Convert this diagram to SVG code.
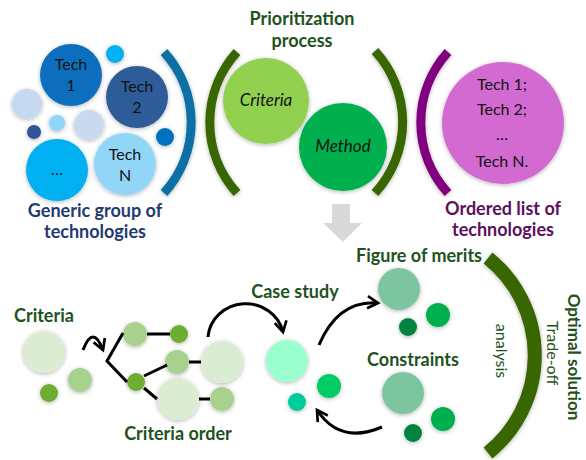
<svg xmlns="http://www.w3.org/2000/svg" width="586" height="460" viewBox="0 0 586 460">
<defs>
<filter id="sh" x="-30%" y="-30%" width="160%" height="160%">
<feDropShadow dx="0" dy="1" stdDeviation="2" flood-color="#000" flood-opacity="0.3"/>
</filter>
<marker id="ah" viewBox="0 0 10 10" refX="8" refY="5" markerWidth="5" markerHeight="5" orient="auto" markerUnits="strokeWidth">
<path d="M1,1 L8,5 L1,9" fill="none" stroke="#000" stroke-width="1.8"/>
</marker>
<style>
text{font-family:Lato,"Liberation Sans",sans-serif;text-anchor:middle}
.h{font-weight:bold;font-size:18px}
.g{fill:#1E5220}
.nv{fill:#1F3B70}
.pu{fill:#5C105E}
.t{font-size:16px;fill:#111}
.it{font-style:italic;font-size:17px;fill:#111}
.rt{font-size:16px}
.arc{fill:none;stroke-width:9;filter:url(#sh)}
.c{filter:url(#sh)}
.ln{stroke:#000;stroke-width:3;fill:none}
.ar{stroke:#000;stroke-width:3;fill:none;marker-end:url(#ah)}
</style>
</defs>
<rect width="586" height="460" fill="#fff"/>

<g id="generic-group">
<circle class="c" cx="115" cy="54" r="9" fill="#00B0F0"/>
<circle class="c" cx="27" cy="104" r="15" fill="#C5D9F1"/>
<circle class="c" cx="57" cy="123" r="8" fill="#8FD6F8"/>
<circle class="c" cx="34" cy="132" r="7" fill="#2F5597"/>
<circle class="c" cx="89" cy="125" r="15" fill="#C9DAF0"/>
<circle class="c" cx="165" cy="137" r="9" fill="#0070C0"/>
<circle class="c" cx="71" cy="75" r="31" fill="#0A6EBD"/>
<text class="t" x="71" y="70">Tech</text>
<text class="t" x="71" y="91">1</text>
<circle class="c" cx="137" cy="97" r="31" fill="#2E5C99"/>
<text class="t" x="137" y="92">Tech</text>
<text class="t" x="137" y="113">2</text>
<circle class="c" cx="57" cy="170" r="31" fill="#00B0F0"/>
<text class="t" x="57" y="175">…</text>
<circle class="c" cx="125" cy="164" r="31" fill="#92D6F7"/>
<text class="t" x="125" y="160">Tech</text>
<text class="t" x="125" y="181">N</text>
<path class="arc" d="M164,52 A105,105 0 0 1 164,193" stroke="#0B6FA4"/>
<text class="h nv" x="95" y="217">Generic group of</text>
<text class="h nv" x="95" y="238">technologies</text>
</g>

<g id="prioritization">
<text class="h g" x="302" y="25">Prioritization</text>
<text class="h g" x="302" y="47">process</text>
<path class="arc" d="M237,52 A105,105 0 0 0 237,193" stroke="#386600"/>
<path class="arc" d="M375,51 A105,105 0 0 1 375,193" stroke="#386600"/>
<circle class="c" cx="266" cy="101" r="43" fill="#92D050"/>
<text class="it" x="266" y="106">Criteria</text>
<circle class="c" cx="343" cy="147" r="44" fill="#00B050"/>
<text class="it" x="343" y="152">Method</text>
</g>

<g id="ordered-list">
<path class="arc" d="M448,52 A105,105 0 0 0 448,193" stroke="#800080"/>
<circle class="c" cx="503" cy="123" r="61" fill="#D36BD1"/>
<text class="t" x="502" y="90">Tech 1;</text>
<text class="t" x="502" y="115">Tech 2;</text>
<text class="t" x="502" y="140">…</text>
<text class="t" x="502" y="167">Tech N.</text>
<text class="h pu" x="503" y="215">Ordered list of</text>
<text class="h pu" x="503" y="236">technologies</text>
</g>

<g id="down-arrow">
<path d="M332,204 L350,204 L350,223 L362,223 L343,242 L323,223 L332,223 Z" fill="#D9D9D9"/>
</g>

<g id="criteria">
<text class="h g" x="44" y="322">Criteria</text>
<circle class="c" cx="44" cy="352" r="21" fill="#DAEDD3"/>
<circle class="c" cx="80" cy="380" r="12" fill="#A9D18E"/>
<circle class="c" cx="49" cy="393" r="9" fill="#6DAE30"/>
</g>

<g id="criteria-order">
<circle class="c" cx="135" cy="334" r="12" fill="#A9D18E"/>
<circle class="c" cx="179" cy="334" r="9" fill="#6DAE30"/>
<circle class="c" cx="136" cy="382" r="9" fill="#6DAE30"/>
<circle class="c" cx="177" cy="362" r="12" fill="#A9D18E"/>
<circle class="c" cx="222" cy="362" r="21" fill="#DAEDD3"/>
<circle class="c" cx="178" cy="399" r="21" fill="#DAEDD3"/>
<circle class="c" cx="222" cy="399" r="12" fill="#A9D18E"/>
<text class="h g" x="178" y="440">Criteria order</text>
</g>

<g id="case-study">
<text class="h g" x="295" y="298">Case study</text>
<circle class="c" cx="287" cy="361" r="21" fill="#99FFCC"/>
<circle class="c" cx="329" cy="386" r="12" fill="#00CC66"/>
<circle class="c" cx="297" cy="402" r="9" fill="#00CC99"/>
</g>

<g id="figure-of-merits">
<text class="h g" x="419" y="262">Figure of merits</text>
<circle class="c" cx="399" cy="289" r="21" fill="#7DC59E"/>
<circle class="c" cx="438" cy="315" r="12" fill="#00B050"/>
<circle class="c" cx="408" cy="327" r="9" fill="#00843F"/>
</g>

<g id="constraints">
<text class="h g" x="413" y="366">Constraints</text>
<circle class="c" cx="403" cy="393" r="21" fill="#7DC59E"/>
<circle class="c" cx="443" cy="419" r="12" fill="#00B050"/>
<circle class="c" cx="413" cy="433" r="9" fill="#00843F"/>
</g>

<g id="optimal-solution">
<path d="M488,258 A125,125 0 0 1 488,453" fill="none" stroke="#376600" stroke-width="14" filter="url(#sh)"/>
<text transform="translate(502,351) rotate(90)" dominant-baseline="central" class="rt g">analysis</text>
<text transform="translate(553,353) rotate(90)" dominant-baseline="central" class="rt g">Trade-off</text>
<text transform="translate(574,357) rotate(90)" dominant-baseline="central" class="h g" style="font-size:17px">Optimal solution</text>
</g>

<g id="connectors">
<path class="ln" d="M123,333 L107,361 L127,382"/>
<path class="ln" d="M147,334 L170,334"/>
<path class="ln" d="M144,376 L167,365"/>
<path class="ln" d="M144,388 L157,399"/>
<path class="ln" d="M189,362 L201,362"/>
<path class="ln" d="M199,399 L210,399"/>
<path class="ar" d="M83,350 Q93,324 103,350"/>
<path class="ar" d="M208,337 A38,36 0 0 1 283,332"/>
<path class="ar" d="M319,345 Q338,300 378,303"/>
<path class="ar" d="M382,427 Q340,445 317,410"/>
</g>
</svg>
